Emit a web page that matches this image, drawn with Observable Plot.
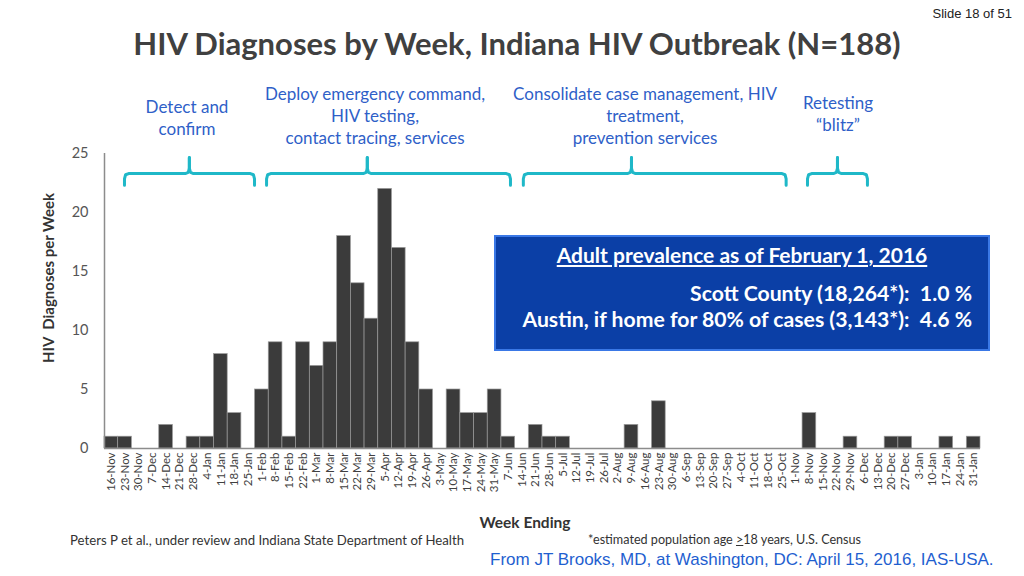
<!DOCTYPE html>
<html>
<head>
<meta charset="utf-8">
<script src="https://cdn.jsdelivr.net/npm/d3@7"></script>
<script src="https://cdn.jsdelivr.net/npm/@observablehq/plot@0.6"></script>
<style>
  html, body { margin: 0; padding: 0; background: #fff; }
  #page { position: relative; width: 1024px; height: 576px; overflow: hidden; font-family: Lato, "Open Sans", sans-serif; }
  .abs { position: absolute; white-space: nowrap; }
  .ann { color: #2f5fc8; font-size: 17px; line-height: 22px; text-align: center; }
  #chart { position: absolute; left: 0; top: 140px; }
  #chart g[aria-label^="y-axis"] text { font-size: 14.5px; fill: #555; }
</style>
</head>
<body>
<div id="page">
  <div class="abs" style="right:12px; top:6px; font-family:'Liberation Sans Narrow','Liberation Sans',sans-serif; font-size:13px; color:#222;">Slide 18 of 51</div>
  <div class="abs" style="left:0; width:1034px; top:24px; text-align:center; font-size:31px; font-weight:700; color:#404040;">HIV Diagnoses by Week, Indiana HIV Outbreak (N=188)</div>

  <div class="abs ann" style="left:107px; width:160px; top:96px;">Detect and<br>confirm</div>
  <div class="abs ann" style="left:235px; width:280px; top:83px;">Deploy emergency command,<br>HIV testing,<br>contact tracing, services</div>
  <div class="abs ann" style="left:495px; width:300px; top:83px;">Consolidate case management, HIV<br>treatment,<br>prevention services</div>
  <div class="abs ann" style="left:778px; width:120px; top:92px;">Retesting<br>“blitz”</div>

  <div id="chart"></div>

  <div class="abs" style="left:48px; top:278px; transform:translate(-50%,-50%) rotate(-90deg); font-size:15px; font-weight:700; color:#333;">HIV&nbsp; Diagnoses per Week</div>
  <div class="abs" style="left:425px; width:200px; top:513px; text-align:center; font-size:15.5px; font-weight:700; color:#333;">Week Ending</div>
  <div class="abs" style="left:70px; top:532px; font-size:13.2px; color:#333;">Peters P et al., under review and Indiana State Department of Health</div>
  <div class="abs" style="left:588px; top:532px; font-size:12.6px; color:#333;">*estimated population age <u>&gt;</u>18 years, U.S. Census</div>
  <div class="abs" style="left:490px; top:550px; font-family:'Liberation Sans',Arial,sans-serif; font-size:17px; color:#1f5fd0;">From JT Brooks, MD, at Washington, DC: April 15, 2016, IAS-USA.</div>

  <div class="abs" style="left:494px; top:235px; width:492px; height:112px; background:#0b3fa6; border:2px solid #3a78e6; color:#fff; font-weight:700;">
    <div style="position:absolute; left:0; right:0; top:5px; text-align:center; font-size:21px; text-decoration:underline;">Adult prevalence as of February 1, 2016</div>
    <div style="position:absolute; right:16px; top:43px; text-align:right; font-size:21.2px; line-height:26px;">Scott County (18,264*):&nbsp; 1.0 %<br>Austin, if home for 80% of cases (3,143*):&nbsp; 4.6 %</div>
  </div>
</div>
<script>
const weeks = ["16-Nov","23-Nov","30-Nov","7-Dec","14-Dec","21-Dec","28-Dec","4-Jan","11-Jan","18-Jan","25-Jan",
  "1-Feb","8-Feb","15-Feb","22-Feb","1-Mar","8-Mar","15-Mar","22-Mar","29-Mar","5-Apr","12-Apr","19-Apr","26-Apr",
  "3-May","10-May","17-May","24-May","31-May","7-Jun","14-Jun","21-Jun","28-Jun","5-Jul","12-Jul","19-Jul","26-Jul",
  "2-Aug","9-Aug","16-Aug","23-Aug","30-Aug","6-Sep","13-Sep","20-Sep","27-Sep","4-Oct","11-Oct","18-Oct","25-Oct",
  "1-Nov","8-Nov","15-Nov","22-Nov","29-Nov","6-Dec","13-Dec","20-Dec","27-Dec","3-Jan","10-Jan","17-Jan","24-Jan","31-Jan"];
const diagnoses = [1,1,0,0,2,0,1,1,8,3,0,
  5,9,1,9,7,9,18,14,11,22,17,9,5,
  0,5,3,3,5,1,0,2,1,1,0,0,0,
  0,2,0,4,0,0,0,0,0,0,0,0,0,
  0,3,0,0,1,0,0,1,1,0,0,1,0,1];
const yTicks = [0,5,10,15,20,25];
// intervention phases, in week-index units
const phaseStart = [1.46, 11.84, 30.6, 51.36];
const phaseEnd   = [10.96, 29.66, 49.8, 55.74];
const phaseMid   = [6.2, 19.2, 38.5, 53.55];
const braceLevel = 23.3, braceFoot = 22.3, bracePeak = 24.66;

const rows = weeks.map((w, i) => ({i, week: w, v: diagnoses[i]}));

// brace paths (two halves each, meeting at the peak)
const brace = [];
phaseStart.forEach((s, k) => {
  const e = phaseEnd[k], m = phaseMid[k];
  const half = (x0, dir, id) => {
    brace.push({id, x: x0, y: braceFoot});
    brace.push({id, x: x0, y: braceLevel - 0.45});
    brace.push({id, x: x0 + dir * 0.08, y: braceLevel - 0.1});
    brace.push({id, x: x0 + dir * 0.3, y: braceLevel});
    brace.push({id, x: m - dir * 0.3, y: braceLevel});
    brace.push({id, x: m - dir * 0.08, y: braceLevel + 0.1});
    brace.push({id, x: m, y: braceLevel + 0.45});
    brace.push({id, x: m, y: bracePeak});
  };
  half(s, 1, k + "L");
  half(e, -1, k + "R");
});

const chart = Plot.plot({
  width: 1024,
  height: 370,
  marginLeft: 104,
  marginRight: 44,
  marginTop: 13,
  marginBottom: 62,
  style: {fontFamily: "Lato, sans-serif", background: "transparent", overflow: "visible"},
  x: {domain: [0, weeks.length], axis: null},
  y: {domain: [0, 25], ticks: yTicks, tickSize: 0, tickPadding: 16, label: null, tickFormat: d => d},
  marks: [
    Plot.rectY(rows.filter(d => d.v > 0), {x1: "i", x2: d => d.i + 1, y: "v", fill: "#3b3b3b", stroke: "#9a9a9a", strokeWidth: 0.7}),
    Plot.ruleY([0], {x1: 0, x2: weeks.length, stroke: "#8c8c8c", strokeWidth: 1.5}),
    Plot.ruleX([0], {y1: 0, y2: 25, stroke: "#8c8c8c", strokeWidth: 1.5}),
    Plot.text(rows, {x: d => d.i + 0.5, y: 0, text: "week", rotate: -90, textAnchor: "end", dy: 4, fontSize: 11.5, fill: "#404040"}),
    Plot.line(brace, {x: "x", y: "y", z: "id", stroke: "#1fb8c8", strokeWidth: 3, curve: "linear", strokeLinejoin: "round", strokeLinecap: "round"})
  ]
});
document.getElementById("chart").appendChild(chart);
</script>
</body>
</html>
